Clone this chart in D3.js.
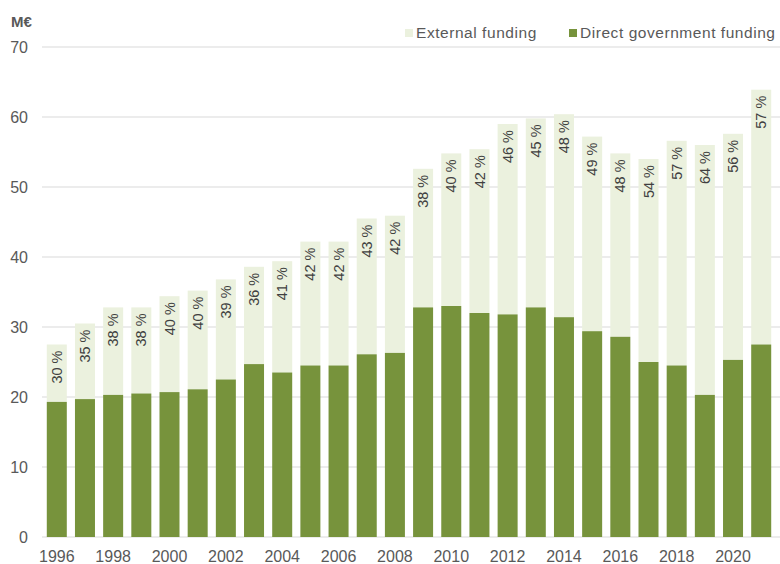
<!DOCTYPE html>
<html>
<head>
<meta charset="utf-8">
<script src="https://cdn.jsdelivr.net/npm/d3@7"></script>
<style>
  body { margin: 0; background: #fff; }
  text { font-family: "Liberation Sans", Arial, sans-serif; fill: #595959; }
</style>
</head>
<body>
<svg></svg>
<script>
const years = d3.range(1996, 2022);
const totalFunding = [27.5, 30.5, 32.8, 32.8, 34.4, 35.2, 36.8, 38.6, 39.4, 42.2, 42.2, 45.5, 45.9,
  52.6, 54.8, 55.4, 59.0, 59.8, 60.4, 57.2, 54.8, 54.0, 56.6, 56.0, 57.6, 63.9];
const directFunding = [19.3, 19.7, 20.3, 20.5, 20.7, 21.1, 22.5, 24.7, 23.5, 24.5, 24.5, 26.1, 26.3,
  32.8, 33.0, 32.0, 31.8, 32.8, 31.4, 29.4, 28.6, 25.0, 24.5, 20.3, 25.3, 27.5];
const externalShare = ["30 %", "35 %", "38 %", "38 %", "40 %", "40 %", "39 %", "36 %", "41 %", "42 %",
  "42 %", "43 %", "42 %", "38 %", "40 %", "42 %", "46 %", "45 %", "48 %", "49 %", "48 %", "54 %",
  "57 %", "64 %", "56 %", "57 %"];
const yTicks = [0, 10, 20, 30, 40, 50, 60, 70];

const width = 780, height = 564;
const svg = d3.select("svg").attr("width", width).attr("height", height);

const x = d3.scaleBand()
    .domain(years)
    .range([42, 776])
    .paddingInner(0.29)
    .paddingOuter(0.17);

const y = d3.scaleLinear().domain([0, 70]).range([537, 47]);

// gridlines
svg.append("g")
  .selectAll("line")
  .data(yTicks)
  .join("line")
    .attr("x1", 42).attr("x2", 780)
    .attr("y1", d => y(d)).attr("y2", d => y(d))
    .attr("stroke", "#d9d9d9")
    .attr("stroke-width", 1.2);

// y labels
svg.append("g")
  .selectAll("text")
  .data(yTicks)
  .join("text")
    .attr("x", 28)
    .attr("y", d => y(d))
    .attr("dy", "0.35em")
    .attr("text-anchor", "end")
    .style("font-size", "16px")
    .text(d => d);

svg.append("text")
  .attr("x", 11).attr("y", 27)
  .style("font-size", "15px")
  .style("font-weight", "bold")
  .text("M€");

const bars = svg.append("g");

// external part (light), stacked on top of direct funding
bars.selectAll(".ext")
  .data(years)
  .join("rect")
    .attr("class", "ext")
    .attr("x", d => x(d))
    .attr("width", x.bandwidth())
    .attr("y", (d, i) => y(totalFunding[i]))
    .attr("height", (d, i) => y(directFunding[i]) - y(totalFunding[i]))
    .attr("fill", "#ebf1de");

bars.selectAll(".dir")
  .data(years)
  .join("rect")
    .attr("class", "dir")
    .attr("x", d => x(d))
    .attr("width", x.bandwidth())
    .attr("y", (d, i) => y(directFunding[i]))
    .attr("height", (d, i) => y(0) - y(directFunding[i]))
    .attr("fill", "#77933c");

// percentage labels
svg.append("g")
  .selectAll("text")
  .data(years)
  .join("text")
    .attr("transform", (d, i) =>
      `translate(${x(d) + x.bandwidth() / 2},${y(totalFunding[i]) + 6}) rotate(-90)`)
    .attr("text-anchor", "end")
    .attr("dy", "0.35em")
    .style("font-size", "14.5px")
    .style("fill", "#404040")
    .text((d, i) => externalShare[i]);

// x axis labels
svg.append("g")
  .selectAll("text")
  .data(years.filter(d => d % 2 === 0))
  .join("text")
    .attr("x", d => x(d) + x.bandwidth() / 2)
    .attr("y", 562)
    .attr("text-anchor", "middle")
    .style("font-size", "16px")
    .text(d => d);

// legend
const legend = [
  { label: "External funding", color: "#ebf1de", x: 405 },
  { label: "Direct government funding", color: "#77933c", x: 569 }
];
const lg = svg.append("g").selectAll("g").data(legend).join("g")
  .attr("transform", d => `translate(${d.x},33)`);
lg.append("rect").attr("x", 0).attr("y", -4).attr("width", 8).attr("height", 8)
  .attr("fill", d => d.color);
lg.append("text").attr("x", 11).attr("dy", "0.35em")
  .style("font-size", "15.5px")
  .style("letter-spacing", "0.55px")
  .text(d => d.label);
</script>
</body>
</html>
